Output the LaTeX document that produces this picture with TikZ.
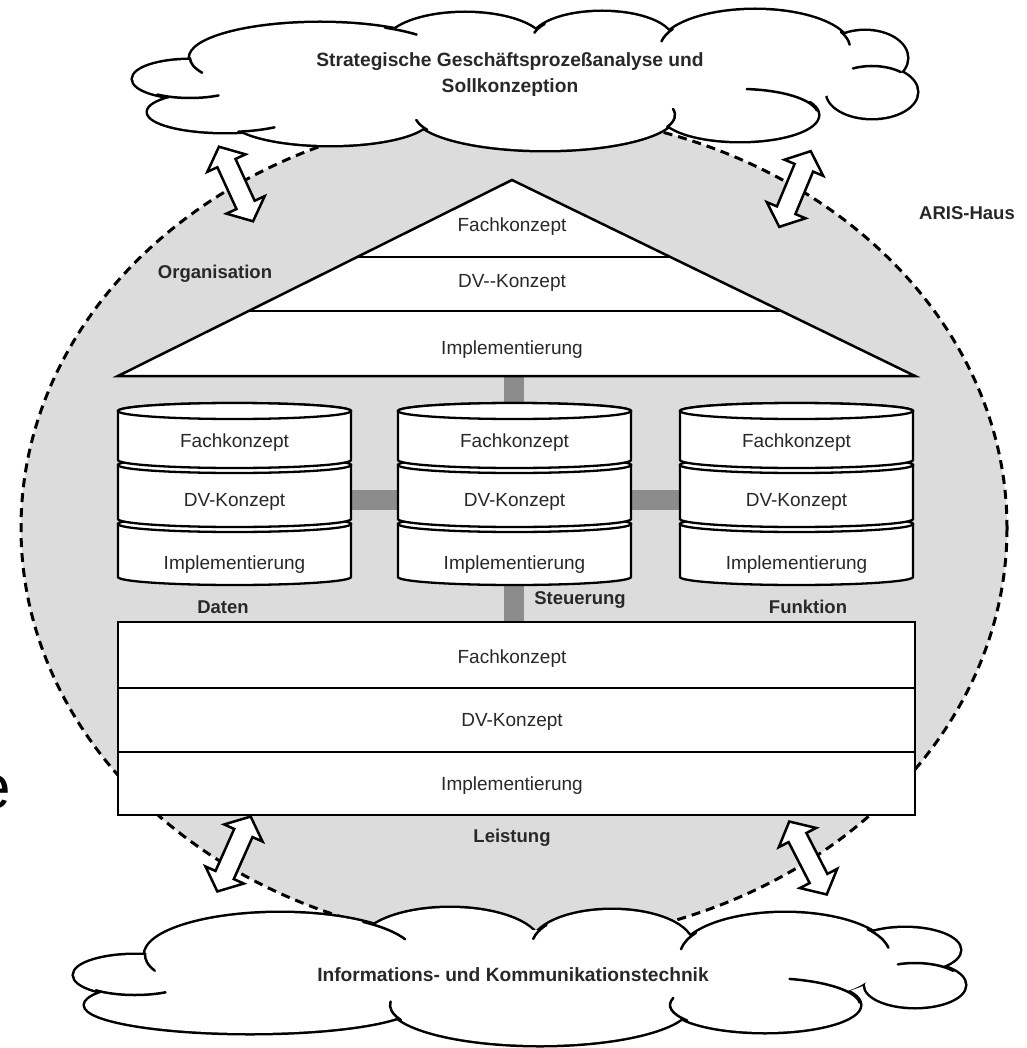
\documentclass[tikz,border=0pt]{standalone}
\usepackage{fontspec}
\setmainfont{Liberation Sans}
\usetikzlibrary{calc}

\definecolor{housegray}{RGB}{220,220,220}
\definecolor{barfill}{RGB}{140,140,140}
\definecolor{inkgray}{RGB}{40,40,40}

% one disc of a drum: x-left, x-right, y of top rim, y of bottom rim
\newcommand{\drumtier}[4]{%
  \pgfmathsetmacro{\dcx}{(#1+#2)/2}%
  \pgfmathsetmacro{\drx}{(#2-#1)/2}%
  \filldraw[tierline] (#1,#3) -- (#1,#4)
     arc[start angle=180, end angle=0, x radius=\drx, y radius=8]
     -- (#2,#3)
     arc[start angle=0, end angle=-180, x radius=\drx, y radius=8] -- cycle;
  \draw[tierline] (\dcx,#3) ellipse [x radius=\drx, y radius=8];}

\begin{document}
\begin{tikzpicture}[x=1pt, y=-1pt,
  lbl/.style={font=\fontsize{19}{22}\selectfont, text=inkgray, inner sep=0pt},
  tag/.style={font=\bfseries\fontsize{18.5}{22}\selectfont, text=inkgray, inner sep=0pt},
  cloudtxt/.style={font=\bfseries\fontsize{19.2}{26}\selectfont, text=inkgray, inner sep=0pt, align=center},
  outline/.style={draw=black, line width=2.5pt, fill=white},
  rowline/.style={draw=black, line width=2.8pt},
  tierline/.style={draw=black, line width=2.3pt, fill=white},
  bar/.style={fill=barfill},
  rim/.style={draw=black, line width=5pt},
  stub/.style={draw=black, line width=2.5pt, line cap=round},
  dblarrow/.pic={
    \filldraw[fill=white, draw=black, line width=2.5pt]
      (-41,0) -- (-23,-21) -- (-23,-10) -- (23,-10) -- (23,-21) -- (41,0)
      -- (23,21) -- (23,10) -- (-23,10) -- (-23,21) -- cycle;}]

\useasboundingbox (0,0) rectangle (1026,1048);
\fill[white] (0,0) rectangle (1026,1048);

% ---- the house circle ----
\draw[fill=housegray, line width=3pt, dash pattern=on 9pt off 6pt]
  (514,528) ellipse [x radius=493, y radius=415];

% ---- upper cloud: union of lobes, then inner puff strokes ----
\foreach \cx/\cy/\rx/\ry in {190/79/57/19, 225/112/77/20, 320/58/130/35,
    465/45/80/32, 602/40/70/28, 755/48/95/38, 865/58/42/27, 872/92/45/26,
    740/115/78/26, 330/118/100/27, 545/115/130/35}
  \draw[rim] (\cx,\cy) ellipse [x radius=\rx, y radius=\ry];
\foreach \cx/\cy/\rx/\ry in {190/79/57/19, 225/112/77/20, 320/58/130/35,
    465/45/80/32, 602/40/70/28, 755/48/95/38, 865/58/42/27, 872/92/45/26,
    740/115/78/26, 330/118/100/27, 545/115/130/35, 520/78/330/48}
  \fill[white] (\cx,\cy) ellipse [x radius=\rx, y radius=\ry];
\foreach \cx/\cy/\rx/\ry/\a/\b in {320/58/130/35/180/155, 320/58/130/35/-60/-42,
    190/79/57/19/125/60, 225/112/77/20/80/50, 545/115/130/35/155/172,
    545/115/130/35/20/-10, 740/115/78/26/-10/-85, 872/92/45/26/-50/-115,
    755/48/95/38/-25/-5, 755/48/95/38/210/190, 602/40/70/28/215/195}
  \draw[stub] (\cx,\cy) ++({\rx*cos(\a)},{\ry*sin(\a)})
    arc[start angle=\a, end angle=\b, x radius=\rx, y radius=\ry];

% ---- lower cloud ----
\foreach \cx/\cy/\rx/\ry in {135/975/61/20, 280/955/135/42, 450/945/90/37,
    612/945/80/35, 785/955/105/42, 905/950/55/22, 915/985/50/22,
    765/1005/95/27, 540/1005/150/40, 250/1005/165/28}
  \draw[rim] (\cx,\cy) ellipse [x radius=\rx, y radius=\ry];
\foreach \cx/\cy/\rx/\ry in {135/975/61/20, 280/955/135/42, 450/945/90/37,
    612/945/80/35, 785/955/105/42, 905/950/55/22, 915/985/50/22,
    765/1005/95/27, 540/1005/150/40, 250/1005/165/28, 520/975/350/45}
  \fill[white] (\cx,\cy) ellipse [x radius=\rx, y radius=\ry];
\foreach \cx/\cy/\rx/\ry/\a/\b in {280/955/135/42/182/158, 135/975/61/20/130/60,
    540/1005/150/40/158/185, 765/1005/95/27/145/195, 765/1005/95/27/-5/-75,
    915/985/50/22/-40/-110, 785/955/105/42/-38/-10, 785/955/105/42/212/188,
    612/945/80/35/215/190, 280/955/135/42/-52/-22}
  \draw[stub] (\cx,\cy) ++({\rx*cos(\a)},{\ry*sin(\a)})
    arc[start angle=\a, end angle=\b, x radius=\rx, y radius=\ry];

\node[cloudtxt] (strat) at (510,75)
  {Strategische Geschäftsprozeßanalyse und\\Sollkonzeption};
\node[cloudtxt] (ikt) at (513,975) {Informations- und Kommunikationstechnik};

% ---- grey links between the views ----
\fill[bar] (504,370) rectangle (524,415);
\fill[bar] (504,578) rectangle (524,626);
\fill[bar] (345,490) rectangle (404,510);
\fill[bar] (625,490) rectangle (686,510);

% ---- roof: Organisation ----
\coordinate (roofL) at (118,376);
\coordinate (roofT) at (512,180);
\coordinate (roofR) at (915,376);
\draw[outline, line join=miter] (roofL) -- (roofT) -- (roofR) -- cycle;
\draw[rowline, line width=2.3pt] ($(roofL)!0.607!(roofT)$) -- ($(roofR)!0.607!(roofT)$);
\draw[rowline, line width=2.3pt] ($(roofL)!0.332!(roofT)$) -- ($(roofR)!0.332!(roofT)$);
\node[lbl] (orgF) at (512,227) {Fachkonzept};
\node[lbl] (orgD) at (512,283) {DV-{}-Konzept};
\node[lbl] (orgI) at (512,350) {Implementierung};

% ---- three drums: Daten, Steuerung, Funktion ----
\foreach \xa/\xb in {118/351, 398/631, 680/913}{
  \drumtier{\xa}{\xb}{524}{577}
  \drumtier{\xa}{\xb}{465}{519}
  \drumtier{\xa}{\xb}{411}{460}
}
\node[lbl] (datF) at (234.5,443) {Fachkonzept};
\node[lbl] (datD) at (234.5,502) {DV-Konzept};
\node[lbl] (datI) at (234.5,565) {Implementierung};
\node[lbl] (steF) at (514.5,443) {Fachkonzept};
\node[lbl] (steD) at (514.5,502) {DV-Konzept};
\node[lbl] (steI) at (514.5,565) {Implementierung};
\node[lbl] (fktF) at (796.5,443) {Fachkonzept};
\node[lbl] (fktD) at (796.5,502) {DV-Konzept};
\node[lbl] (fktI) at (796.5,565) {Implementierung};

% ---- base: Leistung ----
\draw[outline] (118,622) rectangle (915,815);
\draw[rowline] (118,688) -- (915,688);
\draw[rowline] (118,752) -- (915,752);
\node[lbl] (leiF) at (512,659) {Fachkonzept};
\node[lbl] (leiD) at (512,722) {DV-Konzept};
\node[lbl] (leiI) at (512,786) {Implementierung};

% ---- view names ----
\node[tag] (organisation) at (215,274) {Organisation};
\node[tag] (daten) at (223,607) {Daten};
\node[tag] (steuerung) at (580,600) {Steuerung};
\node[tag] (funktion) at (808,607) {Funktion};
\node[tag] (leistung) at (512,838) {Leistung};
\node[tag] (haus) at (967,213) {ARIS-Haus};

% ---- exchange arrows between the clouds and the house ----
\pic[rotate=-65.4] at (236,184) {dblarrow};
\pic[rotate=67.4] at (795,189) {dblarrow};
\pic[rotate=66] at (234,854) {dblarrow};
\pic[rotate=-62.8] at (808,858) {dblarrow};

% ---- letter cut by the left margin ----
\node[font=\fontsize{62}{62}\selectfont, anchor=east, inner sep=0pt] (edgeE) at (11,792) {e};
\end{tikzpicture}
\end{document}
